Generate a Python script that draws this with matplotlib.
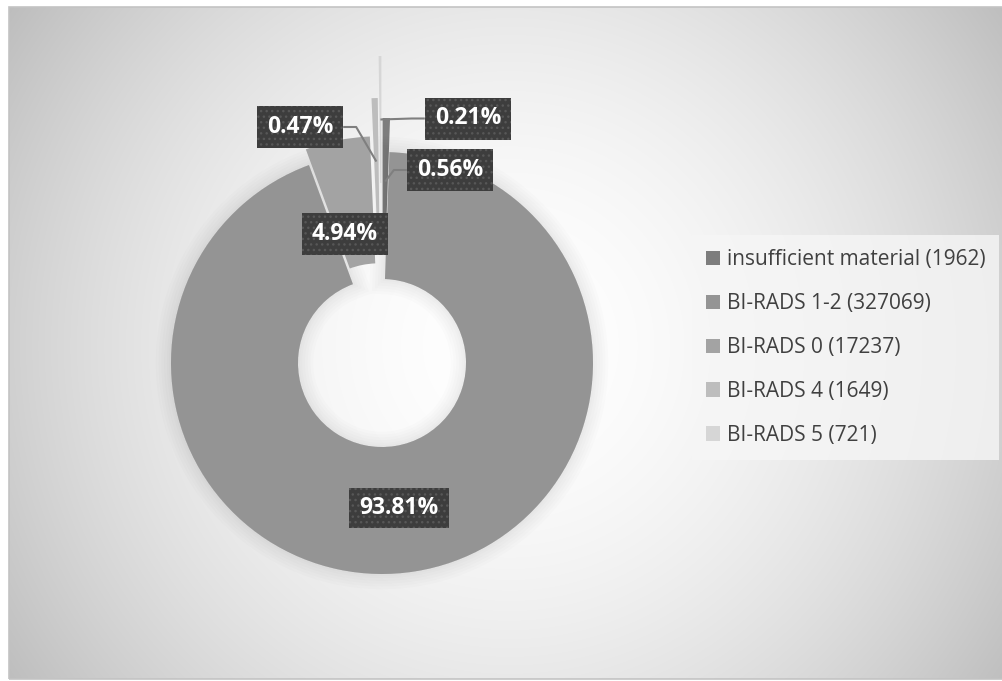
import numpy as np
import matplotlib.pyplot as plt
import matplotlib.patheffects as pe
from matplotlib.patches import Rectangle

# donnees : nombre d'examens par categorie
categories = ['insufficient material', 'BI-RADS 1-2', 'BI-RADS 0', 'BI-RADS 4', 'BI-RADS 5']
counts = [1962, 327069, 17237, 1649, 721]
colors = ['#7d7d7d', '#949494', '#a3a3a3', '#bdbdbd', '#d6d6d6']

W, H = 1002, 681
R = 211          # rayon exterieur (px)
ring = 127       # epaisseur de l'anneau
center = (382, H - 363)
explode_px = [34, 0, 16, 54, 96]

# position des etiquettes (centre de la boite, px) et cote du trait de rappel
label_pos = [(450, 170), (399, 508), (345, 234), (300, 127), (468, 118.5)]
leader = ['left', None, None, 'right', 'left']

plt.rcParams['font.family'] = ['Open Sans', 'DejaVu Sans']
plt.rcParams['hatch.linewidth'] = 1.0

fig = plt.figure(figsize=(W / 100, H / 100), dpi=100)
ax = fig.add_axes([0, 0, 1, 1])
ax.set_xlim(0, W)
ax.set_ylim(0, H)

# fond : degrade radial
yy, xx = np.mgrid[0:H, 0:W]
d = np.hypot(xx - 505, yy - 343) / 600
g = np.clip(1 - 0.25 * d ** 1.8, 0, 1)
ax.imshow(np.dstack([g, g, g]), extent=(9, W, 2, H - 7), origin='upper', zorder=0)
ax.add_patch(Rectangle((9, 2), W + 10, H - 9, fill=False, ec='#c3c3c3', lw=1.2, zorder=1))

wedges, _ = ax.pie(counts, colors=colors, startangle=90, counterclock=False,
                   radius=R, center=center, explode=explode_px,
                   wedgeprops=dict(width=ring, linewidth=0))
# ombre douce autour du grand secteur
shadow = [pe.Stroke(linewidth=lw, foreground='black', alpha=0.011)
          for lw in (22, 18, 14, 10, 6, 3)]
for w in wedges:
    w.set_zorder(2)
wedges[1].set_path_effects(shadow + [pe.Normal()])

ax.set_aspect('auto')
ax.set_xlim(0, W)
ax.set_ylim(0, H)
ax.axis('off')

renderer = fig.canvas.get_renderer()
total = sum(counts)
r_mid = R - ring / 2
for i, w in enumerate(wedges):
    pct = counts[i] / total * 100
    lx, ly = label_pos[i]
    ly = H - ly
    t = ax.text(lx, ly, f"{pct:.2f}%", ha='center', va='center', color='white',
                fontsize=16.5, fontweight='bold', zorder=5)
    bb = t.get_window_extent(renderer)
    bw = bb.width + 20
    bh = 42 if i != 1 else 40
    ax.add_patch(Rectangle((lx - bw / 2, ly - bh / 2), bw, bh, fc='#3d3d3d',
                           ec='#575757', lw=0, hatch='...', zorder=4.5))
    if leader[i] is not None:
        ang = np.deg2rad((w.theta1 + w.theta2) / 2)
        cx, cy = w.center
        ax_pt = cx + r_mid * np.cos(ang), cy + r_mid * np.sin(ang)
        if leader[i] == 'left':
            x0 = lx - bw / 2
            x1 = x0 - 13
        else:
            x0 = lx + bw / 2
            x1 = x0 + 13
        ax.plot([x0, x1, ax_pt[0]], [ly, ly, ax_pt[1]], color='#7f7f7f', lw=1.5,
                zorder=4, solid_capstyle='butt')

leg = ax.legend(wedges, [f"{c} ({n})" for c, n in zip(categories, counts)],
                loc='upper left', bbox_to_anchor=(692 / W, 1 - 235 / H),
                frameon=True, fontsize=15, labelcolor='#404040',
                handlelength=0.68, handleheight=0.68, handletextpad=0.3,
                labelspacing=1.1, borderpad=0.68, borderaxespad=0, fancybox=False)
leg.get_frame().set_facecolor('#f6f6f6')
leg.get_frame().set_edgecolor('none')
leg.get_frame().set_alpha(0.8)
leg.set_zorder(6)
for h in leg.legend_handles:
    h.set_path_effects([])

fig.savefig('out.png', dpi=100, facecolor='white')
